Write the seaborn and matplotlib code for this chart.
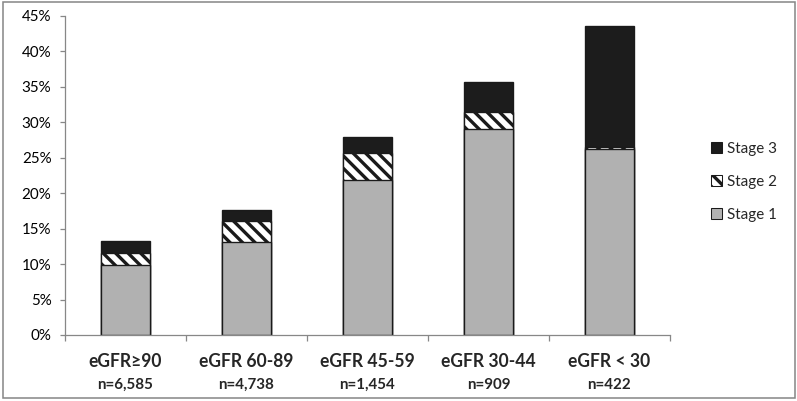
import matplotlib
matplotlib.use("Agg")
import matplotlib.pyplot as plt
import matplotlib.transforms as mtransforms
from matplotlib.patches import Patch, Rectangle
from matplotlib.ticker import PercentFormatter
import seaborn as sns
import pandas as pd
import numpy as np

# data (percent)
categories = ["eGFR≥90", "eGFR 60-89", "eGFR 45-59", "eGFR 30-44", "eGFR < 30"]
n_labels = ["n=6,585", "n=4,738", "n=1,454", "n=909", "n=422"]
stage1 = [9.8, 13.1, 21.9, 29.0, 26.2]
stage2 = [1.7, 3.0, 3.8, 2.4, 0.3]
stage3 = [1.7, 1.5, 2.2, 4.3, 17.1]

sns.set_style("white")
plt.rcParams["font.family"] = ["Lato", "DejaVu Sans"]
plt.rcParams["hatch.linewidth"] = 3.2

DPI = 75
STAGE1_COLOR = "#b1b1b1"
STAGE3_COLOR = "#1c1c1c"
EDGE = "#1a1a1a"
AXIS_GRAY = "#878787"
FS = 14.5

df = pd.DataFrame({"group": categories, "s1": stage1, "s2": stage2, "s3": stage3})
df["c2"] = df["s1"] + df["s2"]
df["c3"] = df["c2"] + df["s3"]

fig = plt.figure(figsize=(797 / DPI, 401 / DPI), dpi=DPI)
ax = fig.add_axes([65 / 797, 66 / 401, 605 / 797, 319.3 / 401])

bar_kw = dict(order=categories, width=0.4, saturation=1, errorbar=None,
              edgecolor=EDGE, linewidth=1.3, ax=ax)
# stacked bars drawn as overlapping cumulative totals
sns.barplot(data=df, x="group", y="c3", color=STAGE3_COLOR, **bar_kw)
sns.barplot(data=df, x="group", y="c2", color="white", hatch="\\\\", **bar_kw)
sns.barplot(data=df, x="group", y="s1", color=STAGE1_COLOR, **bar_kw)

ax.set_xlim(-0.5, len(categories) - 0.5)
ax.set_ylim(0, 45)
ax.set_yticks(np.arange(0, 50, 5))
ax.yaxis.set_major_formatter(PercentFormatter(100, decimals=0))
ax.set_xticks(np.arange(-0.5, len(categories), 1))
ax.set_xticklabels([])
ax.set_xlabel("")
ax.set_ylabel("")

for side in ["top", "right"]:
    ax.spines[side].set_visible(False)
for side in ["left", "bottom"]:
    ax.spines[side].set_color(AXIS_GRAY)
    ax.spines[side].set_linewidth(1.2)

ax.tick_params(axis="y", length=5, width=1.2, color=AXIS_GRAY, pad=8,
               labelsize=FS, labelcolor="black", left=True)
ax.tick_params(axis="x", length=6, width=1.2, color=AXIS_GRAY, bottom=True)

trans = mtransforms.blended_transform_factory(ax.transData, ax.transAxes)
for i, (cat, n) in enumerate(zip(categories, n_labels)):
    ax.text(i, -0.0836, cat, transform=trans, ha="center", va="center",
            fontsize=16.8, fontweight="bold")
    ax.text(i, -0.1566, n, transform=trans, ha="center", va="center",
            fontsize=FS, fontweight="bold")

handles = [
    Patch(facecolor=STAGE3_COLOR, edgecolor=EDGE, label="Stage 3"),
    Patch(facecolor="white", edgecolor=EDGE, hatch="\\\\", label="Stage 2"),
    Patch(facecolor=STAGE1_COLOR, edgecolor=EDGE, label="Stage 1"),
]
fig.legend(handles=handles, loc="center left", bbox_to_anchor=(0.875, 0.547),
           frameon=False, fontsize=FS, handlelength=0.75, handleheight=0.75,
           handletextpad=0.3, labelspacing=1.25, borderpad=0.4)

# outer chart border
fig.patches.append(Rectangle((2.5 / 797, 3 / 401), 792 / 797, 396 / 401,
                             transform=fig.transFigure, fill=False,
                             edgecolor=AXIS_GRAY, linewidth=1.5))

fig.savefig("out.png", dpi=DPI)
